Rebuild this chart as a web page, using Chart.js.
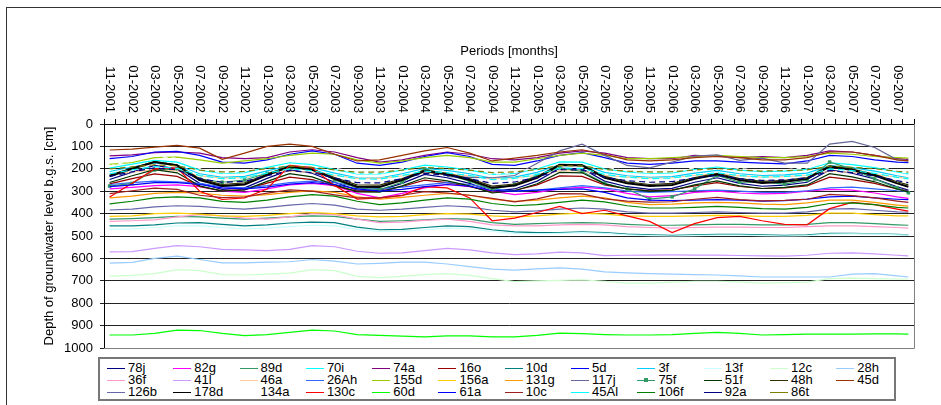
<!DOCTYPE html>
<html>
<head>
<meta charset="utf-8">
<script src="https://cdn.jsdelivr.net/npm/chart.js@4.4.1/dist/chart.umd.min.js"></script>
<style>
body { margin:0; background:#fff; width:941px; height:405px; overflow:hidden; position:relative; font-family:"Liberation Sans", Arial, sans-serif; }
#frame { position:absolute; left:6px; top:7px; width:1000px; height:1000px; border-left:1px solid #333; border-top:1px solid #333; }
#bmi { position:absolute; left:0; top:0; }
#legend { position:absolute; left:98px; top:357px; width:798px; height:44px; box-sizing:border-box; border:2px solid #777; background:#fff;
	padding:3px 0 0 7px; display:grid; grid-template-columns:repeat(12, 66.3px); grid-auto-rows:12px; font-size:13px; line-height:12px; color:#000; }
#legend .it { display:flex; align-items:center; white-space:nowrap; }
#legend .sw { position:relative; width:18px; height:0; border-top:1px solid; margin-right:3px; }
#legend .mk { position:absolute; left:7px; top:-3px; width:4px; height:4px; }
</style>
</head>
<body>
<div id="frame"></div>
<canvas id="bmi" width="941" height="405"></canvas>
<div id="legend"></div>
<script>
// months on the category axis (one per category)
var periods = [
	'11-2001','12-2001',
	'01-2002','02-2002','03-2002','04-2002','05-2002','06-2002','07-2002','08-2002','09-2002','10-2002','11-2002','12-2002',
	'01-2003','02-2003','03-2003','04-2003','05-2003','06-2003','07-2003','08-2003','09-2003','10-2003','11-2003','12-2003',
	'01-2004','02-2004','03-2004','04-2004','05-2004','06-2004','07-2004','08-2004','09-2004','10-2004','11-2004','12-2004',
	'01-2005','02-2005','03-2005','04-2005','05-2005','06-2005','07-2005','08-2005','09-2005','10-2005','11-2005','12-2005',
	'01-2006','02-2006','03-2006','04-2006','05-2006','06-2006','07-2006','08-2006','09-2006','10-2006','11-2006','12-2006',
	'01-2007','02-2007','03-2007','04-2007','05-2007','06-2007','07-2007','08-2007','09-2007','10-2007'
]
// categories where a reading was taken off the picture
var sampleIdx = [0,2,4,6,8,10,12,14,16,18,20,22,24,26,28,30,32,34,36,38,40,42,44,46,48,50,52,54,56,58,60,62,64,66,68,70,71]

// depth [cm] per well
var s78j  = [248,215,185,200,265,292,285,243,205,220, 260,295,296,265,225,240,265,300,290,255, 198,200,255,280,292,287,260,240,265,278, 273,260,205,220,245,280,295]
var s82g  = [290,283,275,272,280,300,305,290,272,265, 275,310,330,310,285,270,280,300,315,305, 290,282,290,310,325,320,305,300,308,312, 310,300,292,295,308,325,332]
var s89d  = [425,422,418,412,415,420,425,420,415,410, 412,425,435,432,428,422,425,440,448,445, 442,440,442,448,452,452,450,448,448,450, 450,448,440,440,445,450,452]
var s70i  = [197,179,162,170,206,221,217,194,173,181, 203,223,223,206,184,192,206,225,220,201, 169,170,201,214,221,218,203,192,206,213, 210,203,173,181,195,214,223]
var s74a  = [142,138,128,125,130,150,155,150,125,115, 125,150,170,160,140,125,135,155,160,150, 130,120,130,150,155,155,140,145,150,145, 150,140,120,125,140,155,158]
var s16o  = [267,244,223,234,279,298,293,264,237,248, 276,300,301,279,251,262,279,304,297,272, 232,234,272,290,298,294,276,262,279,288, 285,276,237,248,265,290,300]
var s10d  = [455,455,450,442,440,448,455,450,442,438, 440,460,472,470,462,455,458,472,482,485, 485,482,485,492,495,497,495,493,493,495, 497,495,488,488,490,493,495]
var s5d   = [155,145,125,122,140,170,175,160,135,120, 135,175,185,170,145,128,145,180,185,165, 140,128,150,175,180,175,165,165,170,175, 178,165,140,145,160,170,172]
var s3f   = [212,192,174,183,222,238,234,209,186,195, 219,240,241,222,198,207,222,243,237,216, 182,183,216,231,238,235,219,207,222,230, 227,219,186,195,210,231,240]
var s13f  = [470,468,462,455,455,462,468,465,458,452, 455,470,480,478,472,465,468,480,488,490, 488,485,488,495,498,500,498,496,496,498, 500,498,492,490,492,495,496]
var s12c  = [679,676,668,650,655,672,674,670,666,650, 655,680,686,680,672,668,676,690,704,700, 698,696,702,710,710,706,702,702,705,710, 708,706,690,688,690,692,692]
var s28h  = [621,618,600,590,605,620,620,617,615,605, 612,625,622,617,617,625,637,648,652,647, 642,648,660,665,668,670,672,674,678,683, 683,683,683,670,668,678,683]
var s36f  = [435,432,428,415,405,410,420,425,415,400, 405,425,440,438,430,425,435,450,455,455, 450,448,450,458,462,465,462,460,460,462, 462,458,455,455,458,462,465]
var s41l  = [571,570,555,543,548,560,562,565,560,543, 548,568,577,575,565,555,562,575,583,580, 572,575,588,586,585,584,585,585,587,589, 590,586,577,575,580,586,589]
var s46a  = [226,215,204,209,232,241,239,224,211,216, 230,243,243,232,218,223,232,244,241,229, 209,209,229,237,241,240,230,223,232,237, 235,230,211,216,225,237,243]
var s26Ah = [270,262,255,258,265,280,285,275,262,255, 262,280,290,282,272,262,270,290,300,295, 285,275,285,300,305,302,298,295,300,305, 305,298,285,282,290,298,300]
var s155d = [180,172,150,148,160,175,165,155,140,130, 135,160,175,165,150,140,150,170,170,155, 140,130,140,155,155,150,145,140,145,150, 150,145,130,135,145,150,152]
var s156a = [412,410,400,398,402,410,412,408,400,395, 400,410,415,412,405,400,402,410,415,410, 402,398,402,410,412,412,410,408,410,412, 412,408,398,398,405,410,410]
var s131g = [330,322,310,305,308,318,322,315,305,298, 305,325,335,328,318,310,318,335,345,340, 330,322,330,350,360,358,352,350,352,358, 360,352,340,340,350,362,367]
var s117j = [null,null,null,null,null,null,null,null,null,null, null,null,null,null,null,235,238,240,230,175, 120,90,140,185,196,170,143,138,162,152, 175,175,90,78,105,160,165]
var s75f  = [277,265,205,200,245,260,250,220,196,200, 250,285,293,260,200,225,255,293,270,230, 196,212,265,290,335,325,290,230,260,258, 268,250,170,200,245,285,307]
var s51f  = [261,231,204,218,276,300,294,256,222,236, 272,303,304,276,240,254,276,308,298,267, 216,218,267,290,300,296,272,254,276,288, 283,272,222,236,258,290,303]
var s48h  = [228,197,168,182,244,270,263,223,187,201, 239,272,273,244,206,220,244,277,268,235, 180,182,234,258,270,265,239,220,244,256, 252,239,187,201,225,258,272]
var s45d  = [116,112,103,95,108,158,130,100,90,100, 135,165,160,140,120,105,130,165,152,140, 125,115,135,160,165,160,150,145,150,160, 160,150,125,125,140,160,165]
var s126b = [384,380,370,365,368,375,380,372,362,355, 362,380,385,380,372,365,370,385,392,388, 380,375,380,392,398,398,395,392,395,398, 398,392,380,378,385,392,394]
var s178d = [233,200,170,185,250,277,270,228,190,205, 245,280,281,250,210,225,250,285,275,240, 183,185,240,265,277,272,245,225,250,263, 258,245,190,205,230,265,280]
var s134a = [187,164,143,154,199,218,213,184,157,168, 196,220,221,199,171,182,199,224,217,192, 152,154,192,210,218,214,196,182,199,208, 205,196,157,168,185,210,220]
var s130c = [326,265,200,196,300,337,330,290,185,195, 275,335,330,320,280,285,330,432,420,395, 368,400,385,410,435,485,445,418,412,432, 448,450,378,350,360,380,389]
var s60d  = [942,942,935,920,922,935,945,940,930,920, 924,940,944,947,950,946,946,950,950,944, 934,936,940,942,942,940,935,930,935,942, 940,938,938,938,937,937,938]
var s61a  = [280,272,262,262,270,285,290,282,268,262, 270,290,300,292,280,270,278,298,300,295, 292,290,305,330,340,342,340,338,340,344, 342,335,325,322,330,336,338]
var s10c  = [311,298,286,292,318,329,326,309,294,300, 316,330,330,318,302,308,318,332,348,334, 311,312,334,344,349,347,336,328,338,343, 341,336,314,320,330,344,350]
var s45Al = [222,205,190,198,230,244,240,219,200,208, 228,245,246,230,210,218,230,248,243,225, 197,198,225,238,244,241,228,218,230,237, 234,228,200,208,220,238,245]
var s106f = [357,345,330,325,330,345,350,340,325,315, 322,345,360,352,340,330,335,355,365,360, 350,340,348,365,375,375,372,368,372,378, 380,372,355,352,360,372,375]
var s92a  = [234,214,196,205,244,260,256,231,208,217, 241,262,263,244,220,229,244,265,259,238, 204,205,238,253,260,257,241,229,244,252, 249,241,208,217,232,253,262]
var s86t  = [201,191,182,187,206,214,212,199,188,193, 205,215,215,206,194,199,206,217,214,203, 186,187,203,211,214,213,205,199,206,210, 208,205,188,193,200,211,215]

var wells = [
	['78j', s78j], ['82g', s82g], ['89d', s89d], ['70i', s70i], ['74a', s74a], ['16o', s16o], ['10d', s10d], ['5d', s5d],
	['3f', s3f], ['13f', s13f], ['12c', s12c], ['28h', s28h],
	['36f', s36f], ['41l', s41l], ['46a', s46a], ['26Ah', s26Ah], ['155d', s155d], ['156a', s156a], ['131g', s131g], ['117j', s117j],
	['75f', s75f], ['51f', s51f], ['48h', s48h], ['45d', s45d],
	['126b', s126b], ['178d', s178d], ['134a', s134a], ['130c', s130c], ['60d', s60d], ['61a', s61a], ['10c', s10c], ['45Al', s45Al],
	['106f', s106f], ['92a', s92a], ['86t', s86t]
]

// line styles
var look = {
	'78j':{c:'#000080'}, '82g':{c:'#FF00FF'}, '89d':{c:'#339966'}, '70i':{c:'#00FFFF'}, '74a':{c:'#800080'}, '16o':{c:'#990000'},
	'10d':{c:'#008080'}, '5d':{c:'#0000FF'}, '3f':{c:'#00CCFF'}, '13f':{c:'#CCFFFF'}, '12c':{c:'#CCFFCC'}, '28h':{c:'#99CCFF'},
	'36f':{c:'#FF99CC'}, '41l':{c:'#CC99FF'}, '46a':{c:'#FFCC99'}, '26Ah':{c:'#3366FF'}, '155d':{c:'#99CC00'}, '156a':{c:'#FFCC00'},
	'131g':{c:'#FF9900'}, '117j':{c:'#666699'}, '75f':{c:'#339966', mk:true}, '51f':{c:'#003300'}, '48h':{c:'#333300'}, '45d':{c:'#993300'},
	'126b':{c:'#6666AA'}, '178d':{c:'#000000', w:2}, '134a':{c:'#FFFFFF', d:[5,4]}, '130c':{c:'#FF0000'}, '60d':{c:'#00FF00'},
	'61a':{c:'#0000FF'}, '10c':{c:'#A02020'}, '45Al':{c:'#00FFFF', d:[7,4]}, '106f':{c:'#008000'}, '92a':{c:'#000080', d:[6,4]}, '86t':{c:'#808000', d:[6,4]}
}

var font = "'Liberation Sans', Arial, sans-serif"

function spread( vals ) {
	var out = periods.map(function() { return null })
	sampleIdx.forEach(function( k, j ) { out[k] = vals[j] })
	return out
}

var plotFrame = {
	id: 'plotFrame',
	beforeDatasetsDraw: function( chart ) {
		var ctx = chart.ctx, a = chart.chartArea
		var r = Math.round(a.right) + 0.5, b = Math.round(a.bottom) + 0.5
		ctx.save()
		ctx.strokeStyle = '#808080'
		ctx.lineWidth = 1
		ctx.beginPath()
		ctx.moveTo(r, a.top)
		ctx.lineTo(r, b)
		ctx.lineTo(a.left, b)
		ctx.stroke()
		ctx.restore()
	},
	afterDraw: function( chart ) {
		// month labels, written top-down like the original
		var ctx = chart.ctx, x = chart.scales.x
		ctx.save()
		ctx.font = '13px ' + font
		ctx.fillStyle = '#000'
		ctx.textAlign = 'right'
		ctx.textBaseline = 'middle'
		for( var i = 0; i < periods.length; i += 2 ) {
			ctx.save()
			ctx.translate(x.getPixelForValue(i), x.bottom - 11)
			ctx.rotate(Math.PI / 2)
			ctx.fillText(periods[i], 0, 0)
			ctx.restore()
		}
		ctx.restore()
	}
}

var datasets = wells.map(function( w, i ) {
	var st = look[w[0]]
	return {
		label: w[0],
		data: spread(w[1]),
		borderColor: st.c,
		backgroundColor: st.c,
		borderWidth: st.w || 1.2,
		borderDash: st.d || [],
		pointRadius: st.mk ? 2.5 : 0,
		pointStyle: 'rect',
		pointBorderWidth: 0,
		order: -i
	}
})

new Chart(document.getElementById('bmi'), {
	type: 'line',
	data: { labels: periods, datasets: datasets },
	options: {
		responsive: false,
		animation: false,
		devicePixelRatio: 1,
		spanGaps: true,
		layout: { padding: { left: 0, right: 27, top: 0, bottom: 57 } },
		elements: { line: { tension: 0 } },
		plugins: { legend: { display: false }, tooltip: { enabled: false } },
		scales: {
			x: {
				type: 'category',
				position: 'top',
				offset: true,
				grid: { offset: true, drawOnChartArea: false, tickLength: 5, color: '#000' },
				border: { color: '#000' },
				ticks: { display: false },
				title: { display: true, text: 'Periods [months]', color: '#000', font: { size: 13, family: font }, padding: { top: 44, bottom: 0 } },
				afterFit: function( s ) { s.height = 124 }
			},
			y: {
				reverse: true,
				min: 0,
				max: 1000,
				ticks: { stepSize: 100, color: '#000', font: { size: 13, family: font }, padding: 7,
					callback: function( v ) { return String(v) } },
				grid: { color: '#222', tickLength: 4 },
				border: { color: '#000' },
				title: { display: true, text: 'Depth of groundwater level b.g.s. [cm]', color: '#000', font: { size: 13, family: font }, padding: { top: 42, bottom: 0 } },
				afterFit: function( s ) { s.width = 104 }
			}
		}
	},
	plugins: [plotFrame]
})

// legend grid, same order as the series
var lg = document.getElementById('legend')
wells.forEach(function( w ) {
	var st = look[w[0]]
	var it = document.createElement('div')
	it.className = 'it'
	var sw = document.createElement('span')
	sw.className = 'sw'
	sw.style.borderTopColor = st.c
	if( st.mk ) {
		var mk = document.createElement('span')
		mk.className = 'mk'
		mk.style.background = st.c
		sw.appendChild(mk)
	}
	it.appendChild(sw)
	it.appendChild(document.createTextNode(w[0]))
	lg.appendChild(it)
})
</script>
</body>
</html>
